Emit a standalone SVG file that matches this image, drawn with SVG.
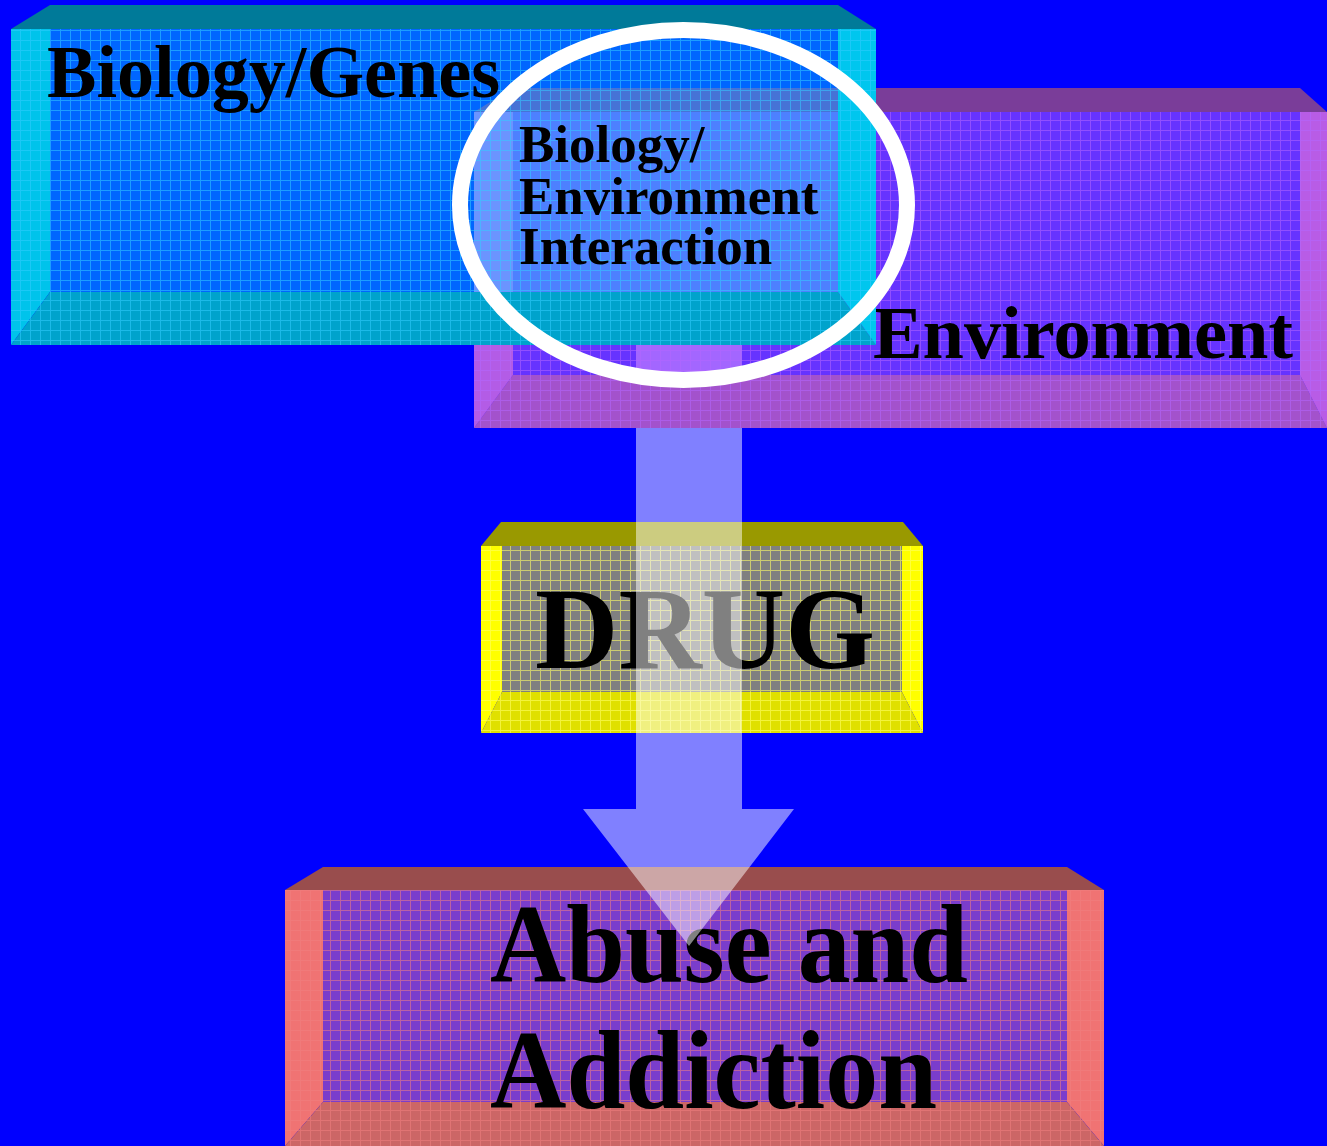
<svg xmlns="http://www.w3.org/2000/svg" width="1327" height="1146" viewBox="0 0 1327 1146">
<defs>
<style>
.t{font-family:"Liberation Serif","Times New Roman",serif;font-weight:bold;fill:#000}
</style>
<pattern id="gCyan" width="10" height="10" patternUnits="userSpaceOnUse"><path d="M0 0.5H10M0.5 0V10" stroke="#33CCFF" stroke-width="1" fill="none"/></pattern>
<pattern id="gPurple" width="10" height="10" patternUnits="userSpaceOnUse"><path d="M0 0.5H10M0.5 0V10" stroke="#B366FF" stroke-width="1" fill="none"/></pattern>
<pattern id="gYellow" width="10" height="10" patternUnits="userSpaceOnUse"><path d="M0 0.5H10M0.5 0V10" stroke="#FFFF66" stroke-width="1" fill="none"/></pattern>
<pattern id="gSalmon" width="10" height="10" patternUnits="userSpaceOnUse"><path d="M0 0.5H10M0.5 0V10" stroke="#F08080" stroke-width="1" fill="none"/></pattern>
<clipPath id="b1front"><rect x="50" y="29" width="788" height="263"/></clipPath>
</defs>
<rect x="0" y="0" width="1327" height="1146" fill="#0000FF"/>

<g id="environment">
<rect x="474" y="112" width="853" height="316" fill="#6633FF"/>
<rect x="636" y="345" width="106" height="30" fill="#A366FF"/>
<polygon points="474,112 513,112 513,375 474,428" fill="#B35CE6"/>
<polygon points="1300,112 1327,112 1327,428 1300,375" fill="#B85CE6"/>
<polygon points="474,428 513,375 1300,375 1327,428" fill="#A352CC"/>
<rect x="474" y="112" width="853" height="316" fill="url(#gPurple)" opacity="0.55"/>
<polygon points="474,112 513,88 1300,88 1327,112" fill="#7A3D99"/>
<text class="t" x="873" y="358" font-size="74" textLength="420" lengthAdjust="spacingAndGlyphs">Environment</text>
</g>

<g id="biology-genes">
<rect x="50" y="29" width="788" height="263" fill="#0066FF"/>
<g clip-path="url(#b1front)">
<polygon points="474,112 513,88 1300,88 1327,112" fill="#4673D6"/>
<rect x="513" y="112" width="325" height="180" fill="#4D80FF"/>
<rect x="474" y="112" width="39" height="180" fill="#6B94FF"/>
</g>
<polygon points="11,29 50,29 50,292 11,345" fill="#00C3EB"/>
<polygon points="838,29 876,29 876,345 838,292" fill="#00C6EE"/>
<polygon points="11,345 50,292 838,292 876,345" fill="#00A3CC"/>
<rect x="11" y="29" width="865" height="316" fill="url(#gCyan)" opacity="0.55"/>
<polygon points="11,29 50,5 838,5 876,29" fill="#007A99"/>
<text class="t" x="47" y="97" font-size="74" textLength="453" lengthAdjust="spacingAndGlyphs">Biology/Genes</text>
</g>

<g id="interaction">
<ellipse cx="683.5" cy="205" rx="223.5" ry="175" fill="none" stroke="#FFFFFF" stroke-width="16"/>
<text class="t" font-size="53"><tspan x="519" y="162">Biology/</tspan><tspan x="519" y="214">Environment</tspan><tspan x="519" y="264">Interaction</tspan></text>
</g>

<g id="drug">
<rect x="502" y="546" width="400" height="146" fill="#808080"/>
<polygon points="481,546 502,546 502,692 481,733" fill="#FFFF00"/>
<polygon points="902,546 923,546 923,733 902,692" fill="#FFFF00"/>
<polygon points="481,733 502,692 902,692 923,733" fill="#E0E000"/>
<rect x="481" y="546" width="442" height="187" fill="url(#gYellow)" opacity="0.6"/>
<polygon points="481,546 501,522 903,522 923,546" fill="#999900"/>
<text class="t" x="535" y="668" font-size="116" textLength="340" lengthAdjust="spacingAndGlyphs">DRUG</text>
</g>

<g id="abuse-addiction">
<rect x="323" y="890" width="744" height="212" fill="#7A3DCC"/>
<polygon points="285,890 323,890 323,1102 285,1146" fill="#F07373"/>
<polygon points="1067,890 1104,890 1104,1146 1067,1102" fill="#F07373"/>
<polygon points="285,1146 323,1102 1067,1102 1104,1146" fill="#CC6666"/>
<rect x="285" y="890" width="819" height="256" fill="url(#gSalmon)" opacity="0.55"/>
<polygon points="285,890 323,867 1067,867 1104,890" fill="#994D4D"/>
<text class="t" font-size="112"><tspan x="490" y="982" textLength="478" lengthAdjust="spacingAndGlyphs">Abuse and</tspan><tspan x="490" y="1108" textLength="447" lengthAdjust="spacingAndGlyphs">Addiction</tspan></text>
</g>

<g id="connectors">
<polygon points="636,428 742,428 742,809 794,809 689,946 583,809 636,809" fill="#FFFFFF" fill-opacity="0.5"/>
</g>
</svg>
